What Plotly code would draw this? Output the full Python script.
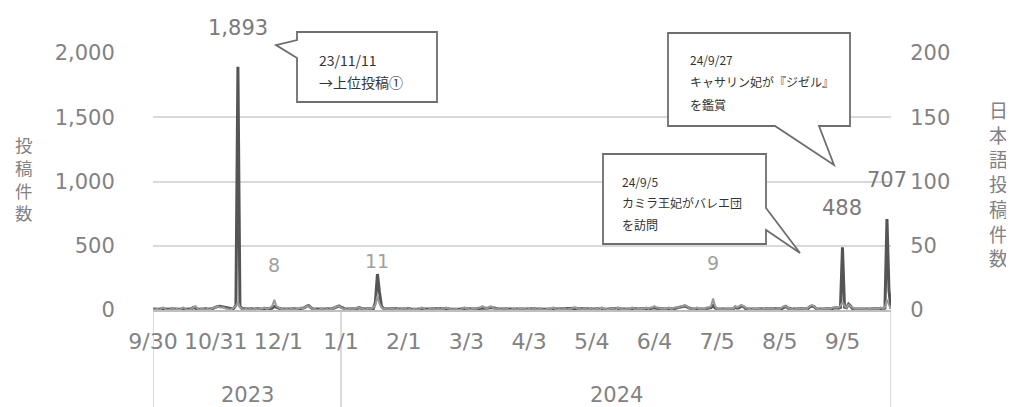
import pandas as pd
import plotly.graph_objects as go

# ---------------- data ----------------
start_date = "2023-09-30"

total_sep23 = [8]
total_oct23 = [6, 9, 5, 10, 8, 6, 4, 6, 9, 7, 5, 8, 6, 7, 10, 7, 5, 6, 9, 20, 12, 7, 6, 8, 5, 9, 7, 6, 10, 14, 22]
total_nov23 = [28, 30, 26, 22, 16, 12, 9, 10, 14, 35, 1893, 30, 12, 9, 8, 7, 10, 6, 8, 9, 7, 6, 8, 10, 7, 9, 11, 15, 28, 20]
total_dec23 = [14, 9, 8, 7, 10, 6, 8, 9, 7, 6, 8, 10, 12, 18, 30, 34, 20, 10, 8, 7, 6, 9, 8, 7, 10, 6, 8, 12, 20, 30, 32]
total_jan24 = [22, 12, 8, 7, 9, 8, 10, 9, 14, 18, 12, 8, 7, 9, 10, 8, 12, 60, 280, 140, 30, 12, 8, 7, 9, 10, 8, 6, 9, 7, 8]
total_feb24 = [7, 9, 8, 10, 6, 8, 9, 7, 8, 12, 9, 7, 6, 8, 10, 9, 7, 8, 6, 9, 10, 12, 9, 8, 7, 9, 8, 7, 6]
total_mar24 = [10, 14, 9, 8, 7, 9, 8, 10, 12, 14, 18, 16, 12, 15, 20, 17, 12, 9, 8, 7, 9, 8, 10, 7, 6, 8, 9, 7, 8, 10, 9]
total_apr24 = [8, 7, 9, 6, 8, 10, 7, 9, 8, 6, 7, 9, 8, 10, 12, 9, 7, 8, 6, 9, 8, 7, 10, 9, 12, 14, 10, 8, 7, 9]
total_may24 = [9, 7, 8, 10, 6, 9, 8, 7, 11, 9, 8, 6, 9, 10, 8, 7, 12, 9, 8, 7, 10, 9, 8, 11, 9, 7, 8, 10, 9, 8, 12]
total_jun24 = [9, 12, 15, 18, 14, 12, 10, 9, 8, 10, 12, 9, 8, 11, 13, 16, 20, 26, 30, 24, 15, 10, 9, 8, 12, 10, 9, 8, 10, 12]
total_jul24 = [12, 18, 35, 16, 10, 9, 8, 7, 9, 8, 10, 9, 8, 22, 14, 18, 30, 26, 12, 9, 8, 7, 9, 10, 8, 9, 7, 8, 10, 9, 8]
total_aug24 = [9, 8, 7, 10, 9, 12, 22, 28, 15, 9, 8, 7, 9, 8, 10, 9, 8, 7, 12, 28, 30, 26, 10, 8, 7, 9, 8, 10, 9, 8, 12]
total_sep24 = [15, 18, 14, 20, 488, 22, 18, 45, 30, 12, 10, 9, 8, 10, 9, 8, 7, 9, 8, 10, 9, 8, 9, 12, 10, 14, 707, 150, 10]

jp_sep23 = [1]
jp_oct23 = [0, 1, 0, 1, 2, 1, 0, 0, 1, 1, 0, 1, 0, 1, 2, 1, 0, 0, 1, 2, 3, 1, 0, 1, 1, 0, 1, 0, 1, 2, 2]
jp_nov23 = [3, 2, 2, 2, 1, 1, 0, 1, 2, 3, 6, 2, 1, 0, 1, 0, 1, 0, 1, 1, 0, 1, 1, 2, 1, 1, 2, 3, 8, 3]
jp_dec23 = [2, 1, 1, 0, 1, 0, 1, 1, 0, 1, 1, 2, 1, 2, 3, 3, 2, 1, 1, 0, 0, 1, 1, 0, 1, 0, 1, 1, 2, 3, 3]
jp_jan24 = [2, 1, 1, 0, 1, 1, 1, 1, 2, 2, 1, 1, 0, 1, 1, 1, 2, 4, 11, 5, 2, 1, 1, 0, 1, 1, 1, 0, 1, 0, 1]
jp_feb24 = [1, 1, 0, 1, 0, 1, 1, 0, 1, 2, 1, 0, 0, 1, 1, 1, 0, 1, 0, 1, 1, 2, 1, 1, 0, 1, 1, 0, 0]
jp_mar24 = [1, 2, 1, 1, 0, 1, 1, 1, 2, 2, 3, 2, 1, 2, 3, 2, 1, 1, 1, 0, 1, 1, 1, 0, 0, 1, 1, 0, 1, 1, 1]
jp_apr24 = [1, 0, 1, 0, 1, 1, 0, 1, 1, 0, 0, 1, 1, 1, 2, 1, 0, 1, 0, 1, 1, 0, 1, 1, 2, 2, 1, 1, 0, 1]
jp_may24 = [1, 0, 1, 1, 0, 1, 1, 0, 2, 1, 1, 0, 1, 1, 1, 0, 2, 1, 1, 0, 1, 1, 1, 2, 1, 0, 1, 1, 1, 1, 2]
jp_jun24 = [1, 2, 2, 3, 2, 2, 1, 1, 1, 1, 2, 1, 1, 2, 2, 2, 3, 3, 4, 3, 2, 1, 1, 1, 2, 1, 1, 1, 1, 2]
jp_jul24 = [2, 3, 9, 3, 1, 1, 1, 0, 1, 1, 1, 1, 1, 3, 2, 3, 4, 3, 2, 1, 1, 0, 1, 1, 1, 1, 0, 1, 1, 1, 1]
jp_aug24 = [1, 1, 0, 1, 1, 2, 3, 3, 2, 1, 1, 0, 1, 1, 1, 1, 1, 0, 2, 3, 4, 3, 1, 1, 0, 1, 1, 1, 1, 1, 2]
jp_sep24 = [2, 2, 2, 3, 6, 3, 2, 4, 3, 2, 1, 1, 1, 1, 1, 1, 0, 1, 1, 1, 1, 1, 1, 2, 1, 2, 8, 4, 1]

tick_dates = ["2023-09-30", "2023-10-31", "2023-12-01", "2024-01-01", "2024-02-01", "2024-03-03",
              "2024-04-03", "2024-05-04", "2024-06-04", "2024-07-05", "2024-08-05", "2024-09-05"]
tick_text = ["9/30", "10/31", "12/1", "1/1", "2/1", "3/3", "4/3", "5/4", "6/4", "7/5", "8/5", "9/5"]

year_labels = ["2023", "2024"]
year_bounds = ["2023-09-30", "2024-01-01", "2024-09-29"]

total_peaks = [("2023-11-11", 1893, "1,893"), ("2024-09-05", 488, "488"), ("2024-09-27", 707, "707")]
jp_peaks = [("2023-11-29", 8, "8"), ("2024-01-19", 11, "11"), ("2024-07-03", 9, "9")]

callouts = [
    ["23/11/11", "→上位投稿①"],
    ["24/9/27", "キャサリン妃が『ジゼル』", "を鑑賞"],
    ["24/9/5", "カミラ王妃がバレエ団", "を訪問"],
]

left_title = "投稿件数"
right_title = "日本語投稿件数"

# ---------------- build ----------------
total = (total_sep23 + total_oct23 + total_nov23 + total_dec23 + total_jan24 + total_feb24 + total_mar24
         + total_apr24 + total_may24 + total_jun24 + total_jul24 + total_aug24 + total_sep24)
jp = (jp_sep23 + jp_oct23 + jp_nov23 + jp_dec23 + jp_jan24 + jp_feb24 + jp_mar24
      + jp_apr24 + jp_may24 + jp_jun24 + jp_jul24 + jp_aug24 + jp_sep24)
dates = pd.date_range(start_date, periods=len(total), freq="D")

OFF = 8  # page body margin
W, H = 1014 - OFF, 407 - OFF
PLOT_X0, PLOT_Y0, PW, PH = 153, 53, 738, 257   # plot area in screenshot pixels
L, T = PLOT_X0 - OFF, PLOT_Y0 - OFF
R, B = W - L - PW, H - T - PH

def px(x, y):
    """screenshot pixel -> paper coordinates"""
    return (x - PLOT_X0) / PW, (PLOT_Y0 + PH - y) / PH

NUM_FONT = "DejaVu Sans"
JP_FONT = "Noto Sans CJK JP"
GRAY = "#828282"

fig = go.Figure()
fig.add_trace(go.Scatter(x=dates, y=total, mode="lines", name="投稿件数",
                         line=dict(color="#555555", width=3), yaxis="y"))
fig.add_trace(go.Scatter(x=dates, y=jp, mode="lines", name="日本語投稿件数",
                         line=dict(color="#9a9a9a", width=2), yaxis="y2"))

annotations = []
for d, v, t in total_peaks:
    annotations.append(dict(x=d, y=v, xref="x", yref="y", text=t, showarrow=False,
                            xanchor="center", yanchor="middle", yshift=39,
                            font=dict(family=NUM_FONT, size=21, color="#7a7a7a")))
for d, v, t in jp_peaks:
    annotations.append(dict(x=d, y=v, xref="x", yref="y2", text=t, showarrow=False,
                            xanchor="center", yanchor="middle", yshift=35,
                            font=dict(family=NUM_FONT, size=19, color="#a0a0a0")))

# year labels (centered between category bounds)
for i, yl in enumerate(year_labels):
    a = pd.Timestamp(year_bounds[i]); b = pd.Timestamp(year_bounds[i + 1])
    mid = a + (b - a) / 2
    annotations.append(dict(x=mid, y=px(0, 395)[1], xref="x", yref="paper", text=yl, showarrow=False,
                            xanchor="center", yanchor="middle",
                            font=dict(family=NUM_FONT, size=21, color=GRAY)))

# vertical axis titles (stacked characters)
lx, ly = px(24, 178.5)
annotations.append(dict(x=lx, y=ly, xref="paper", yref="paper", text="<br>".join(left_title),
                        showarrow=False, xanchor="center", yanchor="middle", align="center",
                        font=dict(family=JP_FONT, size=17.5, color=GRAY)))
rx, ry = px(998, 183)
annotations.append(dict(x=rx, y=ry, xref="paper", yref="paper", text="<br>".join(right_title),
                        showarrow=False, xanchor="center", yanchor="middle", align="center",
                        font=dict(family=JP_FONT, size=19, color=GRAY)))

# callout bubbles
bubble_paths = [
    [(297, 32), (437, 32), (437, 102), (297, 102), (297, 58), (276, 45), (297, 40)],
    [(668, 33), (850, 33), (850, 126), (819, 126), (834, 165), (775, 126), (668, 126)],
    [(603, 154), (766, 154), (766, 208), (800, 253), (766, 230), (766, 244), (603, 244)],
]
text_origin = [(317, 60, 22, 14), (688, 59, 22.5, 12), (620, 181, 21.5, 12)]

shapes = []
for pts in bubble_paths:
    p = "M " + " L ".join("{:.5f},{:.5f}".format(*px(x, y)) for x, y in pts) + " Z"
    shapes.append(dict(type="path", path=p, xref="paper", yref="paper",
                       fillcolor="white", line=dict(color="#6e6e6e", width=1.8), layer="above"))
for (x0, y0, dy, fs), lines in zip(text_origin, callouts):
    for j, ln in enumerate(lines):
        xx, yy = px(x0, y0 + j * dy)
        annotations.append(dict(x=xx, y=yy, xref="paper", yref="paper", text=ln, showarrow=False,
                                xanchor="left", yanchor="middle",
                                font=dict(family=JP_FONT, size=fs, color="#333333")))

# category divider lines below the axis
for d in year_bounds:
    shapes.append(dict(type="line", xref="x", yref="paper", x0=d, x1=d, y0=0, y1=-B / PH,
                       line=dict(color="#cfcfcf", width=1.5), layer="below"))

fig.update_layout(
    width=W, height=H,
    margin=dict(l=L, r=R, t=T, b=B, pad=0, autoexpand=False),
    paper_bgcolor="white", plot_bgcolor="white",
    showlegend=False,
    annotations=annotations,
    shapes=shapes,
    xaxis=dict(type="date", range=[year_bounds[0], year_bounds[-1]],
               tickmode="array", tickvals=tick_dates, ticktext=tick_text,
               showgrid=False, showline=True, linecolor="#bfbfbf", linewidth=1.5,
               ticks="outside", ticklen=11, tickcolor="rgba(0,0,0,0)",
               tickfont=dict(family=NUM_FONT, size=22, color=GRAY), zeroline=False),
    yaxis=dict(range=[0, 2000], tickmode="array", tickvals=[0, 500, 1000, 1500, 2000],
               ticktext=["0", "500", "1,000", "1,500", "2,000"],
               showgrid=True, gridcolor="#d9d9d9", gridwidth=1.5, zeroline=False,
               ticks="outside", ticklen=33, tickcolor="rgba(0,0,0,0)",
               tickfont=dict(family=NUM_FONT, size=21, color=GRAY)),
    yaxis2=dict(range=[0, 200], overlaying="y", side="right", tickmode="array",
                tickvals=[0, 50, 100, 150, 200], showgrid=False, zeroline=False,
                ticks="outside", ticklen=14, tickcolor="rgba(0,0,0,0)",
                tickfont=dict(family=NUM_FONT, size=21, color=GRAY)),
)

fig.write_html("out.html")
